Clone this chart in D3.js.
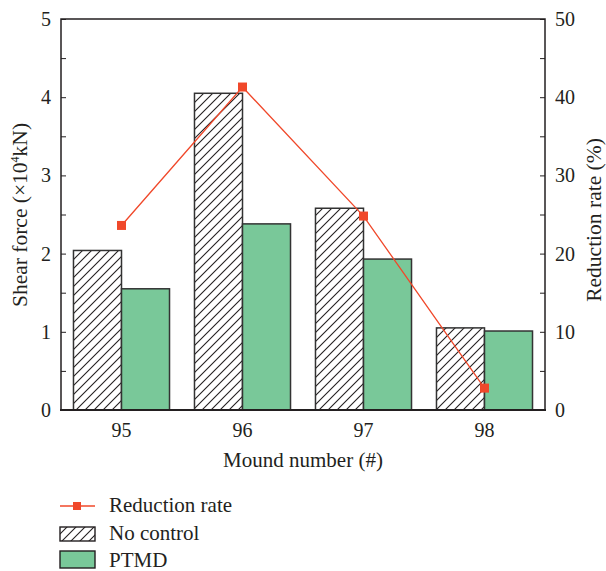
<!DOCTYPE html>
<html>
<head>
<meta charset="utf-8">
<script src="https://cdn.jsdelivr.net/npm/d3@7"></script>
<style>
  html, body { margin: 0; padding: 0; background: #fff; }
  text { font-family: "Liberation Serif", "DejaVu Serif", serif; fill: #231f20; }
</style>
</head>
<body>
<svg id="chart" width="606" height="571"></svg>
<script>
// Mound numbers along the x axis
const mounds = ["95", "96", "97", "98"];
// Shear force (x10^4 kN)
const noControl = [2.04, 4.05, 2.58, 1.05];
const ptmd = [1.55, 2.38, 1.93, 1.01];
// Reduction rate (%)
const reductionRate = [23.6, 41.3, 24.8, 2.8];
// Tick values
const leftTicks = [0, 1, 2, 3, 4, 5];
const rightTicks = [0, 10, 20, 30, 40, 50];

const svg = d3.select("#chart");
const margin = { left: 61, right: 61, top: 19, bottom: 161 };
const W = 606, H = 571;
const x0 = margin.left, x1 = W - margin.right;
const y0 = H - margin.bottom, y1 = margin.top;

const x = d3.scaleBand().domain(mounds).range([x0, x1]).paddingInner(0).paddingOuter(0);
const xSub = d3.scaleBand().domain(["nc", "pt"]).range([0, x.bandwidth()]).paddingOuter(0.26).paddingInner(0);
const yL = d3.scaleLinear().domain([0, 5]).range([y0, y1]);
const yR = d3.scaleLinear().domain([0, 50]).range([y0, y1]);

const green = "#79c899";
const red = "#f0482a";
const FS = 20;

// Diagonal hatch pattern
const defs = svg.append("defs");
const pat = defs.append("pattern")
  .attr("id", "hatch").attr("patternUnits", "userSpaceOnUse")
  .attr("width", 9).attr("height", 9);
pat.append("rect").attr("width", 9).attr("height", 9).attr("fill", "#fff");
pat.append("path").attr("d", "M-2,11 L11,-2 M-2,2 L2,-2 M7,11 L11,7")
  .attr("stroke", "#231f20").attr("stroke-width", 1.1);

// Bars
const g = svg.append("g");
g.selectAll("rect.nc").data(mounds).join("rect")
  .attr("x", d => x(d) + xSub("nc"))
  .attr("y", (d, i) => yL(noControl[i]))
  .attr("width", xSub.bandwidth())
  .attr("height", (d, i) => yL(0) - yL(noControl[i]))
  .attr("fill", "url(#hatch)").attr("stroke", "#333").attr("stroke-width", 1.5);
g.selectAll("rect.pt").data(mounds).join("rect")
  .attr("x", d => x(d) + xSub("pt"))
  .attr("y", (d, i) => yL(ptmd[i]))
  .attr("width", xSub.bandwidth())
  .attr("height", (d, i) => yL(0) - yL(ptmd[i]))
  .attr("fill", green).attr("stroke", "#333").attr("stroke-width", 1.5);

// Frame
svg.append("rect").attr("x", x0).attr("y", y1).attr("width", x1 - x0).attr("height", y0 - y1)
  .attr("fill", "none").attr("stroke", "#231f20").attr("stroke-width", 1.5);
svg.append("line").attr("x1", x0 - 1).attr("x2", x1 + 1).attr("y1", y0).attr("y2", y0)
  .attr("stroke", "#231f20").attr("stroke-width", 2.2);

// Left axis (ticks pointing inward)
const leftAxis = d3.axisRight(yL).tickValues(d3.range(0, 5.01, 0.5)).tickSize(5).tickFormat("");
svg.append("g").attr("transform", `translate(${x0},0)`).call(leftAxis)
  .call(s => s.select(".domain").remove())
  .call(s => s.selectAll("line").attr("stroke", "#231f20").attr("stroke-width", 1));
svg.append("g").selectAll("text").data(leftTicks).join("text")
  .attr("x", 51).attr("y", d => yL(d) + 7)
  .attr("text-anchor", "end").attr("font-size", FS).text(d => d);

// Right axis (ticks pointing inward)
const rightAxis = d3.axisLeft(yR).tickValues(d3.range(0, 50.1, 5)).tickSize(5).tickFormat("");
svg.append("g").attr("transform", `translate(${x1},0)`).call(rightAxis)
  .call(s => s.select(".domain").remove())
  .call(s => s.selectAll("line").attr("stroke", "#231f20").attr("stroke-width", 1));
svg.append("g").selectAll("text").data(rightTicks).join("text")
  .attr("x", 555).attr("y", d => yR(d) + 7)
  .attr("text-anchor", "start").attr("font-size", FS).text(d => d);

// X tick labels
svg.append("g").selectAll("text").data(mounds).join("text")
  .attr("x", d => x(d) + x.bandwidth() / 2).attr("y", 437)
  .attr("text-anchor", "middle").attr("font-size", FS).text(d => d);

// Axis titles
svg.append("text").attr("x", 303).attr("y", 467).attr("text-anchor", "middle")
  .attr("font-size", 21).text("Mound number (#)");
const lt = svg.append("text").attr("transform", "translate(27,215) rotate(-90)")
  .attr("text-anchor", "middle").attr("font-size", 21.5);
lt.append("tspan").text("Shear force (×10");
lt.append("tspan").attr("font-size", 12).attr("dy", -8).text("4");
lt.append("tspan").attr("dy", 8).text("kN)");
svg.append("text").attr("transform", "translate(601,220) rotate(-90)")
  .attr("text-anchor", "middle").attr("font-size", 21.5).text("Reduction rate (%)");

// Reduction rate line with square markers
const line = d3.line().x((d, i) => x(mounds[i]) + x.bandwidth() / 2).y(d => yR(d));
svg.append("path").datum(reductionRate).attr("d", line)
  .attr("fill", "none").attr("stroke", red).attr("stroke-width", 1.3);
svg.append("g").selectAll("rect").data(reductionRate).join("rect")
  .attr("x", (d, i) => x(mounds[i]) + x.bandwidth() / 2 - 4.5)
  .attr("y", d => yR(d) - 4.5)
  .attr("width", 9).attr("height", 9).attr("fill", red);

// Legend
const lg = svg.append("g");
lg.append("line").attr("x1", 60).attr("x2", 95).attr("y1", 506).attr("y2", 506)
  .attr("stroke", red).attr("stroke-width", 1.3);
lg.append("rect").attr("x", 73).attr("y", 502).attr("width", 8).attr("height", 8).attr("fill", red);
lg.append("text").attr("x", 109).attr("y", 512).attr("font-size", 21).text("Reduction rate");
lg.append("rect").attr("x", 60).attr("y", 527).attr("width", 35).attr("height", 14)
  .attr("fill", "url(#hatch)").attr("stroke", "#231f20").attr("stroke-width", 1.4);
lg.append("text").attr("x", 109).attr("y", 540).attr("font-size", 21).text("No control");
lg.append("rect").attr("x", 60).attr("y", 551).attr("width", 35).attr("height", 17)
  .attr("fill", green).attr("stroke", "#231f20").attr("stroke-width", 1.4);
lg.append("text").attr("x", 109).attr("y", 567).attr("font-size", 21).text("PTMD");
</script>
</body>
</html>
